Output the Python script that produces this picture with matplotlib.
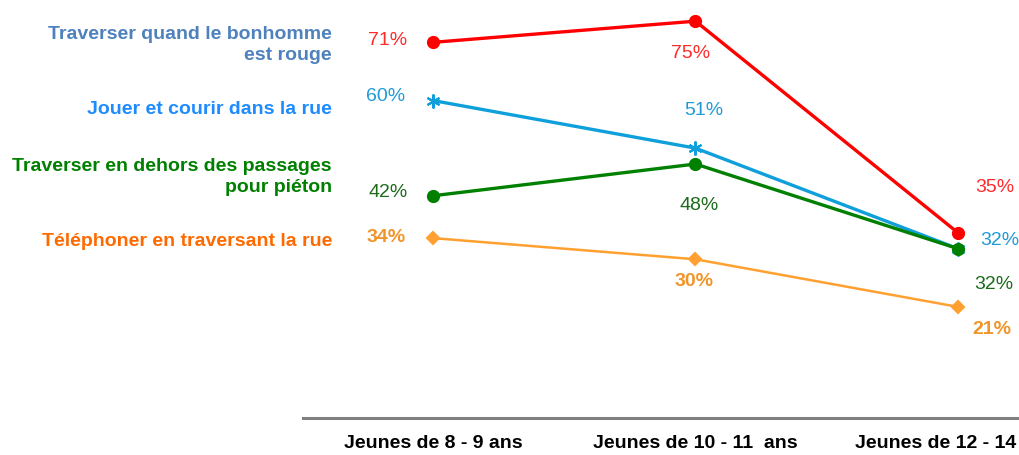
import matplotlib
matplotlib.use("Agg")
import matplotlib.pyplot as plt
from matplotlib.transforms import ScaledTranslation

plt.rcParams['font.family'] = ['Liberation Sans', 'DejaVu Sans']

# categories (the last one is cut by the image edge in the original)
categories = ['Jeunes de 8 - 9 ans', 'Jeunes de 10 - 11  ans', 'Jeunes de 12 - 14']

# series names and values (%)
names = ['Traverser quand le bonhomme\nest rouge',
         'Jouer et courir dans la rue',
         'Traverser en dehors des passages\npour piéton',
         'Téléphoner en traversant la rue']
rouge = [71, 75, 35]
courir = [60, 51, 32]
passages = [42, 48, 32]
telephone = [34, 30, 21]

series = [rouge, courir, passages, telephone]
line_colors = ['#FF0000', '#0FA0DC', '#008000', '#FFA030']
value_colors = ['#FF2A2A', '#1E9BD7', '#1B6B1B', '#F0952A']
name_colors = ['#4F81BD', '#1E8CFF', '#008000', '#FF6A00']
markers = ['o', (6, 2, 0), 'o', 'D']
lwidths = [2.4, 2.4, 2.4, 1.8]
msizes = [8, 10, 8, 6.5]

# offsets (pixels) of the value labels from their points
offsets = [[(-45, 2), (-5, -32), (37, 45)],
           [(-47, 4), (8, 38), (42, 8)],
           [(-45, 3), (4, -41), (36, -36)],
           [(-47, 1), (-1, -22), (34, -23)]]

# y centres (pixels from top) of the series names
name_y = [45, 110, 177, 242]

W, H = 1020, 455
fig = plt.figure(figsize=(W / 100, H / 100), dpi=100)
ax = fig.add_axes([303 / W, 37 / H, (W - 303) / W, 418 / H])

x = list(range(len(categories)))
for i, vals in enumerate(series):
    ax.plot(x, vals, color=line_colors[i], lw=lwidths[i], marker=markers[i],
            ms=msizes[i], mec=line_colors[i], mew=1.5, clip_on=False, zorder=3 + (i == 2))
    for j, v in enumerate(vals):
        ax.annotate(f'{v}%', (x[j], v), xytext=offsets[i][j], textcoords='offset pixels',
                    ha='center', va='center', fontsize=14, color=value_colors[i],
                    fontweight='bold' if i == 3 else 'normal')

ax.set_xlim(-0.495, 2.236)
ax.set_ylim(0, 79)
ax.set_yticks([])
ax.set_xticks(x)
ax.set_xticklabels(categories, fontsize=14, fontweight='bold', color='black')
ax.tick_params(axis='x', length=0, pad=12)
# last label sits where the full (cropped) label started in the original
last = ax.get_xticklabels()[-1]
last.set_transform(last.get_transform() + ScaledTranslation(-0.22, 0, fig.dpi_scale_trans))

for s in ['top', 'right', 'left']:
    ax.spines[s].set_visible(False)
ax.spines['bottom'].set_color('#808080')
ax.spines['bottom'].set_linewidth(2.2)
ax.patch.set_alpha(0)

for i, name in enumerate(names):
    fig.text(332 / W, 1 - name_y[i] / H, name, ha='right', va='center',
             fontsize=14, fontweight='bold', color=name_colors[i], linespacing=1.3)

fig.savefig('out.png', dpi=100)
